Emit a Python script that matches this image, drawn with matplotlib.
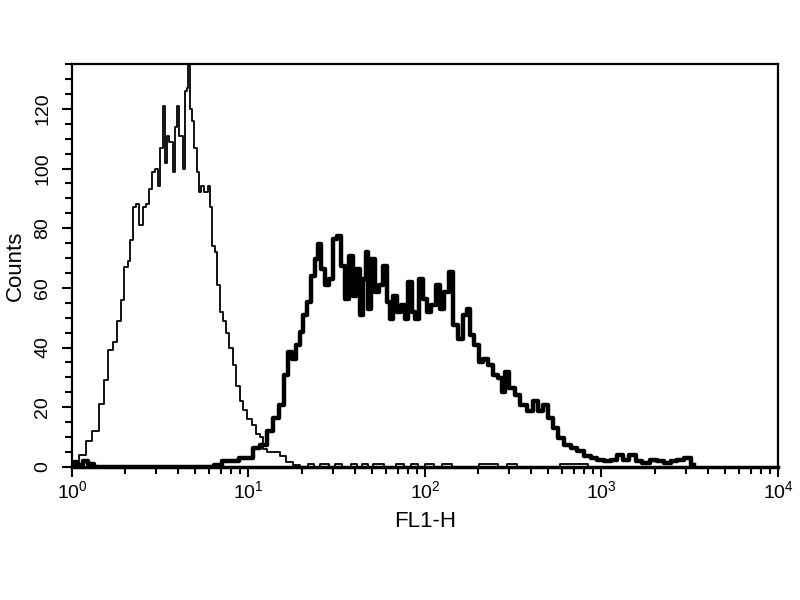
import numpy as np
import matplotlib
matplotlib.use('Agg')
import matplotlib.pyplot as plt
from matplotlib.ticker import LogLocator, MultipleLocator, NullFormatter

plt.rcParams['font.family'] = ['Liberation Sans', 'DejaVu Sans']
plt.rcParams['mathtext.fontset'] = 'custom'
plt.rcParams['mathtext.rm'] = 'Liberation Sans'

# control histogram (thin line)
ctrl_x = [1.00, 1.05, 1.14, 1.25, 1.36, 1.49, 1.55, 1.66, 1.77, 1.85, 1.93, 2.02,
          2.11, 2.16, 2.25, 2.35, 2.46, 2.57, 2.68, 2.80, 2.86, 3.05, 3.12, 3.19,
          3.33, 3.41, 3.48, 3.64, 3.80, 3.88, 3.97, 4.15, 4.33, 4.43, 4.52, 4.58,
          4.73, 4.87, 5.00, 5.15, 5.27, 5.50, 5.75, 6.00, 6.14, 6.33, 6.55, 6.78,
          7.00, 7.31, 7.63, 7.97, 8.33, 8.70, 9.09, 9.49, 10.1, 10.8, 11.3, 11.9,
          12.3, 13.2, 14.4, 15.6, 17.1, 18.7, 20.5, 23.0, 24.0, 27.0, 30.0, 31.5,
          36.0, 40.0, 42.0, 46.0, 49.0, 52.0, 65.0, 72.0, 80.0, 87.0, 96.0, 104,
          120, 130, 155, 250, 265, 320, 340, 820, 860, 1000]
ctrl_y = [0, 0, 4, 8.6, 12, 21, 29, 39, 42, 49, 56, 67,
          69, 76, 87, 88, 81, 87, 88, 93, 99, 100, 94, 107,
          121, 102, 111, 109, 99, 114, 121, 111, 100, 126, 127, 140,
          120, 116, 107, 99, 92, 94, 92, 94, 87, 74, 72, 61,
          52, 49, 45, 40, 34, 27, 22, 19, 16, 14, 11, 10,
          6, 5, 5, 3.5, 1.7, 0.5, 0, 1, 0, 1, 0, 1,
          0, 1, 0, 1, 0, 1, 0, 1, 0, 1, 0, 1,
          0, 1, 0, 1, 0, 1, 0, 1, 0, 0]

# stained histogram (thick line)
stain_x = [1.00, 1.04, 1.10, 1.20, 1.28, 1.40, 6.00, 6.67, 7.40, 8.44, 9.25, 10.1,
           11.1, 12.1, 13.2, 14.4, 15.3, 16.4, 17.1, 18.3, 19.1, 19.9, 20.8, 22.2,
           23.2, 24.2, 25.3, 26.4, 27.6, 29.5, 30.8, 32.9, 34.3, 35.9, 38.3, 40.0,
           41.8, 43.7, 45.6, 46.6, 48.7, 50.8, 53.2, 56.8, 59.3, 61.9, 64.7, 67.5,
           70.5, 75.3, 78.7, 82.2, 85.8, 89.7, 95.8, 100, 104, 111, 119, 124,
           133, 142, 148, 158, 169, 176, 184, 197, 205, 219, 234, 250,
           267, 279, 291, 311, 332, 362, 395, 422, 450, 481, 513, 548,
           585, 639, 696, 760, 830, 904, 987, 1078, 1175, 1282, 1369, 1494,
           1629, 1778, 1982, 2164, 2362, 2576, 2811, 3069, 3345]
stain_y = [0, 1.5, 0.5, 2, 1, 0, 0, 0.5, 2, 2, 3, 3,
           6.3, 7.4, 12, 16.3, 20.8, 30.8, 38.6, 36.3, 40.8, 45.3, 50.8, 55.2,
           64, 69.7, 74.7, 66.3, 60.8, 63, 76.3, 77.4, 67.4, 56.3, 70.8, 57.4,
           66.3, 50.8, 63, 71.9, 53, 69.7, 58.6, 60.8, 67.4, 55.2, 49.7, 57.4,
           51.9, 54.1, 49.7, 61.9, 51.9, 49.7, 63, 56.3, 51.9, 54.1, 60.8, 53,
           58.6, 65.2, 47.4, 43, 50.8, 53, 44.1, 40.8, 35.2, 36.3, 34.1, 30.8,
           29.7, 25.2, 31.9, 26.3, 24.1, 20.8, 18.6, 21.9, 18.6, 20.8, 16.3, 13,
           9.7, 7.4, 6.3, 5.2, 3.6, 3, 2.4, 1.9, 2.4, 4.1, 2.4, 4.1,
           1.9, 1.3, 2.4, 1.9, 1.3, 1.9, 2.4, 3, 0.5]

fig = plt.figure(figsize=(8, 6), dpi=100)
ax = fig.add_axes([0.09, 0.222, 0.8825, 0.671])

ax.plot(ctrl_x, ctrl_y, drawstyle='steps-mid', color='black', lw=1.3)
ax.plot(stain_x, stain_y, drawstyle='steps-mid', color='black', lw=3.2)

ax.set_xscale('log')
ax.set_xlim(1, 1e4)
ax.set_ylim(0, 135)

ax.xaxis.set_major_locator(LogLocator(base=10, numticks=10))
ax.xaxis.set_minor_locator(LogLocator(base=10, subs=np.arange(2, 10), numticks=20))
ax.xaxis.set_minor_formatter(NullFormatter())
ax.yaxis.set_major_locator(MultipleLocator(20))
ax.yaxis.set_minor_locator(MultipleLocator(5))

ax.tick_params(which='both', direction='out', width=1.5, labelsize=14)
ax.tick_params(which='major', length=7, pad=3)
ax.tick_params(which='minor', length=5)
ax.tick_params(axis='y', labelrotation=90, pad=8)
for lab in ax.get_yticklabels():
    lab.set_va('center')

for s in ax.spines.values():
    s.set_linewidth(1.6)
ax.spines['bottom'].set_linewidth(2.5)

ax.set_xlabel('FL1-H', fontsize=16, labelpad=6)
ax.set_ylabel('Counts', fontsize=16, labelpad=6)

fig.savefig('out.png', dpi=100)
